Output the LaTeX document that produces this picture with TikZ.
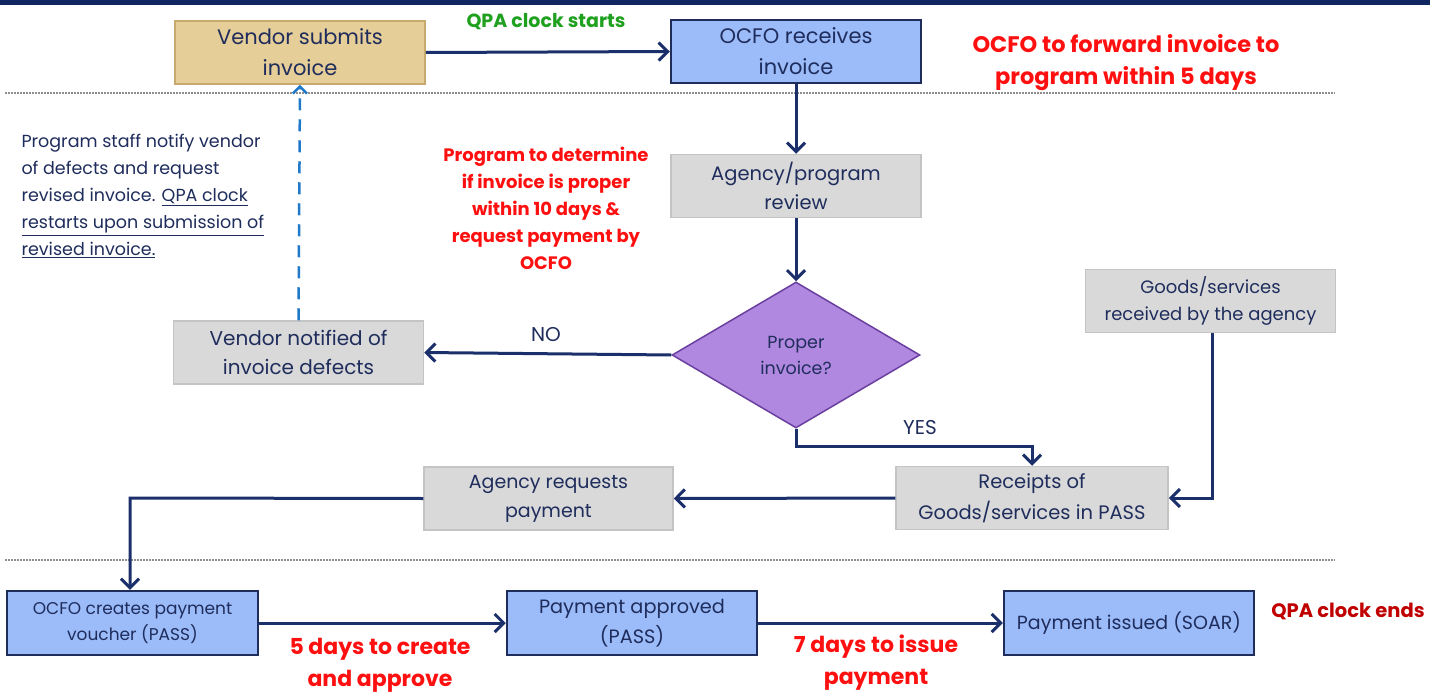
\documentclass[tikz,border=0pt]{standalone}
\usepackage{fontspec}
\setmainfont{Poppins}
\usetikzlibrary{arrows.meta,shapes.geometric}
\definecolor{navy}{HTML}{1F2D5C}
\definecolor{arrowc}{HTML}{1B2F6B}
\definecolor{bluef}{HTML}{9BBBF9}
\definecolor{tanf}{HTML}{E6CE98}
\definecolor{tand}{HTML}{C9AA6E}
\definecolor{grayf}{HTML}{D9D9D9}
\definecolor{grayd}{HTML}{C4C4C4}
\definecolor{purpf}{HTML}{B088E0}
\definecolor{purpd}{HTML}{6B3FA0}
\definecolor{greent}{HTML}{1FA01F}
\definecolor{redt}{HTML}{FF1010}
\definecolor{dredt}{HTML}{C00000}
\definecolor{dashb}{HTML}{1F78C8}
\definecolor{topbar}{HTML}{0F2660}
\definecolor{dotg}{HTML}{8F8F8F}
\tikzset{
  box/.style={draw, minimum width=250pt, minimum height=63pt, inner sep=2pt, align=center, text=navy, font=\fontsize{21}{31}\selectfont},
  bluebox/.style={box, fill=bluef, draw=navy, line width=2.5pt},
  tanbox/.style={box, fill=tanf, draw=tand, line width=1.5pt},
  graybox/.style={box, fill=grayf, draw=grayd, line width=1.5pt},
  flow/.style={draw=arrowc, line width=3pt, -{Straight Barb[length=9pt,width=18pt,line width=3pt]}},
  redlbl/.style={text=redt, font=\bfseries\fontsize{22}{32}\selectfont, align=center},
  sep/.style={draw=dotg, line width=2.5pt, dash pattern=on 1.5pt off 1.5pt},
}
\begin{document}
\begin{tikzpicture}[x=1pt,y=-1pt]
\useasboundingbox (0,0) rectangle (1430,693);
\fill[white] (0,0) rectangle (1430,693);
\fill[topbar] (0,0) rectangle (1430,5);
\draw[sep] (5,93) -- (1335,93);
\draw[sep] (5,560) -- (1335,560);

\node[tanbox] (vsub) at (300,52.5) {Vendor submits\\invoice};
\node[bluebox] (ocfo) at (796,51.5) {OCFO receives\\invoice};
\node[graybox, font=\fontsize{19.5}{29}\selectfont] (rev) at (796,186) {Agency/program\\review};
\node[diamond, draw=purpd, fill=purpf, line width=1.5pt, minimum width=248pt, minimum height=146pt, inner sep=0pt, aspect=1.7, text=navy, align=center, font=\fontsize{17.5}{26}\selectfont] (dec) at (796,355) {Proper\\invoice?};
\node[graybox, font=\fontsize{18}{27}\selectfont] (goods) at (1210.5,301) {Goods/services\\received by the agency};
\node[graybox, font=\fontsize{20}{29}\selectfont] (vnot) at (298.5,352.5) {Vendor notified of\\invoice defects};
\node[graybox, minimum width=272pt, font=\fontsize{19.5}{31}\selectfont] (rcpt) at (1032,498) {Receipts of\\Goods/services in PASS};
\node[graybox, minimum width=249pt, font=\fontsize{19}{29}\selectfont] (areq) at (548.5,498.5) {Agency requests\\payment};
\node[bluebox, minimum width=251pt, minimum height=64pt, font=\fontsize{17}{26}\selectfont] (voucher) at (132.5,623) {OCFO creates payment\\voucher (PASS)};
\node[bluebox, minimum width=250pt, minimum height=64pt, font=\fontsize{19.3}{30}\selectfont] (appr) at (632,623) {Payment approved\\(PASS)};
\node[bluebox, minimum width=250pt, minimum height=64pt, font=\fontsize{19}{28}\selectfont] (issued) at (1129,623) {Payment issued (SOAR)};

\coordinate (yesbend1) at (796,446);
\coordinate (yesbend2) at (1032,446);
\coordinate (goodsbend) at (1212,498);
\coordinate (reqbend) at (130,498);

\path[flow] (vsub.east) -- (ocfo.west);
\path[flow] (ocfo.south) -- (rev.north);
\path[flow] (rev.south) -- (dec.north);
\path[flow] (dec.west) -- (vnot.east);
\path[flow] (dec.south) -- (yesbend1) -- (yesbend2) -- (rcpt.north);
\path[flow] (goods.south -| goodsbend) -- (goodsbend) -- (rcpt.east);
\path[flow] (rcpt.west) -- (areq.east);
\path[flow] (areq.west) -- (reqbend) -- (voucher.north -| reqbend);
\path[flow] (voucher.east) -- (appr.west);
\path[flow] (appr.east) -- (issued.west);
\draw[dashb, line width=2.5pt, dash pattern=on 12pt off 9pt, -{Straight Barb[length=7pt,width=14pt,line width=2.5pt]}] (vnot.north) -- (vsub.south);

\node[text=navy, font=\fontsize{20}{20}\selectfont] (nolbl) at (546,335) {NO};
\node[text=navy, font=\fontsize{20}{20}\selectfont] (yeslbl) at (920,428) {YES};

\node[text=greent, font=\bfseries\fontsize{19}{20}\selectfont] (qstart) at (546,22) {QPA clock starts};
\node[redlbl, font=\bfseries\fontsize{22.5}{32}\selectfont] (fwd) at (1126,63) {OCFO to forward invoice to\\program within 5 days};
\node[redlbl, font=\bfseries\fontsize{18}{27}\selectfont] (det) at (546,208) {Program to determine\\if invoice is proper\\within 10 days \&\\request payment by\\OCFO};
\node[text=navy, align=left, anchor=north west, font=\fontsize{17.5}{27}\selectfont] (staff) at (18,131) {Program staff notify vendor\\of defects and request\\revised invoice. \underline{QPA clock}\\\underline{restarts upon submission of}\\\underline{revised invoice.}};
\node[redlbl] (five) at (380,665) {5 days to create\\and approve};
\node[redlbl] (seven) at (876,663) {7 days to issue\\payment};
\node[text=dredt, font=\bfseries\fontsize{19.5}{20}\selectfont] (qend) at (1348,611) {QPA clock ends};
\end{tikzpicture}
\end{document}
